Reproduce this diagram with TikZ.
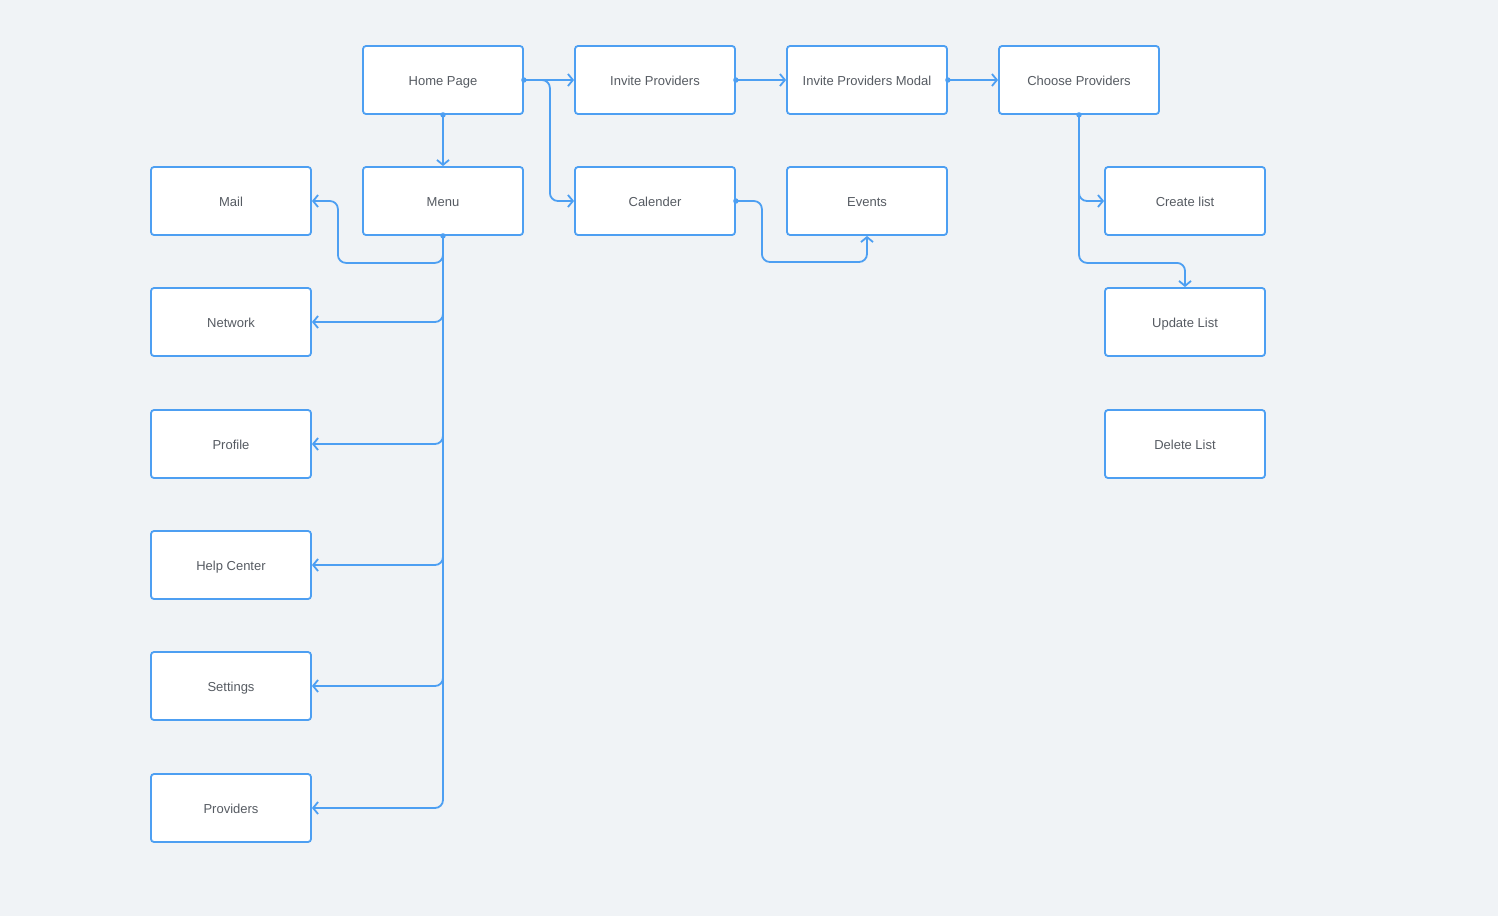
\documentclass[tikz,border=0pt]{standalone}
\usepackage{fontspec}
\setmainfont{Liberation Sans}
\usetikzlibrary{arrows.meta,calc}
\definecolor{bg}{HTML}{F0F3F6}
\definecolor{bl}{HTML}{4D9FF2}
\definecolor{tx}{HTML}{565B62}
\tikzset{
  box/.style={draw=bl, line width=1.8pt, fill=white, rounded corners=3pt,
    minimum width=160pt, minimum height=68pt, inner sep=0pt,
    text height=12pt, text depth=2pt,
    font=\fontsize{13pt}{15pt}\selectfont, text=tx},
  conn/.style={draw=bl, line width=1.8pt, rounded corners=8pt,
    -{Straight Barb[length=5pt,width=12pt]}},
  dot/.style={fill=bl}
}
\begin{document}
\begin{tikzpicture}[x=1pt,y=-1pt]
\fill[bg] (0,0) rectangle (1498,916);
\useasboundingbox (0,0) rectangle (1498,916);
\node[box] (home) at (443,80) {Home Page};
\node[box] (inv) at (655,80) {Invite Providers};
\node[box] (modal) at (867,80) {Invite Providers Modal};
\node[box] (choose) at (1079,80) {Choose Providers};
\node[box] (mail) at (231,201) {Mail};
\node[box] (menu) at (443,201) {Menu};
\node[box] (cal) at (655,201) {Calender};
\node[box] (ev) at (867,201) {Events};
\node[box] (create) at (1185,201) {Create list};
\node[box] (net) at (231,322) {Network};
\node[box] (upd) at (1185,322) {Update List};
\node[box] (prof) at (231,444) {Profile};
\node[box] (del) at (1185,444) {Delete List};
\node[box] (help) at (231,565) {Help Center};
\node[box] (set) at (231,686) {Settings};
\node[box] (prov) at (231,808) {Providers};

\draw[conn] (home.east) -- (inv.west);
\draw[conn] (home.east) -- ++(26,0) |- (cal.west);
\draw[conn] (home.south) -- (menu.north);
\draw[conn] (inv.east) -- (modal.west);
\draw[conn] (modal.east) -- (choose.west);
\draw[conn] (choose.south) |- (create.west);
\draw[conn] (choose.south) -- ++(0,148) -| (upd.north);
\draw[conn] (cal.east) -- ++(26,0) -- ++(0,61) -| (ev.south);
\draw[conn] (menu.south) -- ++(0,27) -| ([xshift=26pt]mail.east) -- (mail.east);
\draw[conn] (menu.south) |- (net.east);
\draw[conn] (menu.south) |- (prof.east);
\draw[conn] (menu.south) |- (help.east);
\draw[conn] (menu.south) |- (set.east);
\draw[conn] (menu.south) |- (prov.east);

\foreach \p in {home.east, home.south, inv.east, modal.east, choose.south, cal.east, menu.south}
  \fill[dot] (\p) circle (2.7pt);
\end{tikzpicture}
\end{document}
